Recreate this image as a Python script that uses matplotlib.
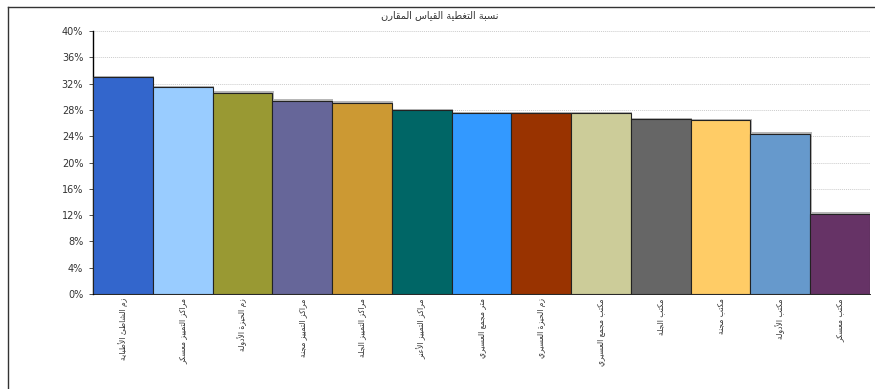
import matplotlib
matplotlib.use('Agg')
import matplotlib.pyplot as plt
import matplotlib.patheffects as pe
from matplotlib.lines import Line2D
from matplotlib.ticker import FuncFormatter, MultipleLocator

# chart data
title = 'نسبة التغطية القياس المقارن'
labels = [
    'زم الشاطئ الأطباية',
    'مراكز التمييز معسكر',
    'زم الحيزة الأدولة',
    'مراكز التمييز مجنة',
    'مراكز التمييز الجلة',
    'مراكز التمييز الأعنر',
    'متر مجمع العسيري',
    'زم الحيزة العسيري',
    'مكتب مجمع العسيري',
    'مكتب الجلة',
    'مكتب مجنة',
    'مكتب الأدولة',
    'مكتب معسكر',
]
values = [33.0, 31.5, 30.6, 29.4, 29.1, 28.0, 27.5, 27.5, 27.5, 26.6, 26.4, 24.4, 12.2]
colors = ['#3366CC', '#99CCFF', '#999933', '#666699', '#CC9933', '#006666', '#3399FF',
          '#993300', '#CCCC99', '#666666', '#FFCC66', '#6699CC', '#663366']

# arabic presentation forms: (isolated code point, number of forms)
FORMS = {
    'ء': (0xFE80, 1), 'آ': (0xFE81, 2), 'أ': (0xFE83, 2), 'ؤ': (0xFE85, 2), 'إ': (0xFE87, 2),
    'ئ': (0xFE89, 4), 'ا': (0xFE8D, 2), 'ب': (0xFE8F, 4), 'ة': (0xFE93, 2), 'ت': (0xFE95, 4),
    'ث': (0xFE99, 4), 'ج': (0xFE9D, 4), 'ح': (0xFEA1, 4), 'خ': (0xFEA5, 4), 'د': (0xFEA9, 2),
    'ذ': (0xFEAB, 2), 'ر': (0xFEAD, 2), 'ز': (0xFEAF, 2), 'س': (0xFEB1, 4), 'ش': (0xFEB5, 4),
    'ص': (0xFEB9, 4), 'ض': (0xFEBD, 4), 'ط': (0xFEC1, 4), 'ظ': (0xFEC5, 4), 'ع': (0xFEC9, 4),
    'غ': (0xFECD, 4), 'ف': (0xFED1, 4), 'ق': (0xFED5, 4), 'ك': (0xFED9, 4), 'ل': (0xFEDD, 4),
    'م': (0xFEE1, 4), 'ن': (0xFEE5, 4), 'ه': (0xFEE9, 4), 'و': (0xFEED, 2), 'ى': (0xFEEF, 2),
    'ي': (0xFEF1, 4),
}
LAM_ALEF = {'آ': 0xFEF5, 'أ': 0xFEF7, 'إ': 0xFEF9, 'ا': 0xFEFB}

def shape(text):
    '''Join arabic letters and reverse them so an LTR renderer shows them right'''
    out = []
    i = 0
    while i < len(text):
        c = text[i]
        if c not in FORMS:
            out.append(c)
            i += 1
            continue
        joins_prev = i > 0 and text[i - 1] in FORMS and FORMS[text[i - 1]][1] == 4
        if c == 'ل' and i + 1 < len(text) and text[i + 1] in LAM_ALEF:
            out.append(chr(LAM_ALEF[text[i + 1]] + (1 if joins_prev else 0)))
            i += 2
            continue
        base, n = FORMS[c]
        joins_next = n == 4 and i + 1 < len(text) and text[i + 1] in FORMS and FORMS[text[i + 1]][1] > 1
        if n == 1:
            code = base
        elif joins_prev and joins_next:
            code = base + 3
        elif joins_prev:
            code = base + 1
        elif joins_next:
            code = base + 2
        else:
            code = base
        out.append(chr(code))
        i += 1
    return ''.join(reversed(out))

plt.rcParams['font.family'] = ['DejaVu Sans']

fig = plt.figure(figsize=(8.75, 3.89), dpi=100)
ax = fig.add_axes([0.1063, 0.2442, 0.888, 0.676])

x = list(range(len(values)))
bars = ax.bar(x, values, width=1.0, color=colors, edgecolor='#222222', linewidth=0.8, zorder=3)
for b in bars:
    b.set_path_effects([pe.SimplePatchShadow(offset=(1, 1), shadow_rgbFace='#888888', alpha=0.6), pe.Normal()])

ax.set_xlim(-0.5, len(values) - 0.5)
ax.set_ylim(0, 40)
ax.yaxis.set_major_locator(MultipleLocator(4))
ax.yaxis.set_major_formatter(FuncFormatter(lambda v, p: f'{v:.0f}%'))
ax.grid(axis='y', color='#cccccc', linestyle=(0, (1, 1)), linewidth=0.7, zorder=0)
ax.tick_params(axis='y', labelsize=7, colors='#333333', length=3, width=0.6, pad=4)
ax.tick_params(axis='x', length=0, pad=3)

ax.set_xticks(x)
ax.set_xticklabels([shape(l) for l in labels], rotation=90, fontsize=5.5, color='#333333', va='top', ha='center')

for side in ['top', 'right']:
    ax.spines[side].set_visible(False)
ax.spines['left'].set_linewidth(1.0)
ax.spines['bottom'].set_linewidth(0.6)

fig.text(0.503, 0.961, shape(title), ha='center', va='center', fontsize=7, color='#333333')

# outer frame
fig.add_artist(Line2D([0.009, 1.0], [0.982, 0.982], color='#333333', linewidth=1.0))
fig.add_artist(Line2D([0.009, 0.009], [0.0, 0.982], color='#333333', linewidth=1.0))

fig.savefig('out.png', dpi=100)
